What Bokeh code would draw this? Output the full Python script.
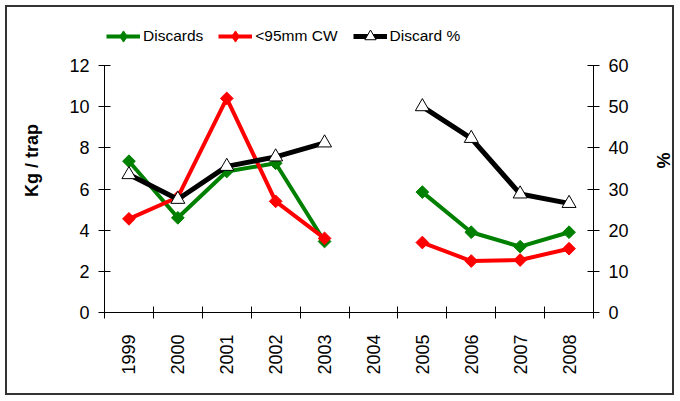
import math
from bokeh.plotting import figure
from bokeh.models import Range1d, LinearAxis, FixedTicker, Legend, LegendItem
from bokeh.embed import file_html
from bokeh.resources import INLINE

NaN = float("nan")
years = ["1999", "2000", "2001", "2002", "2003", "2004", "2005", "2006", "2007", "2008"]
discards = [7.35, 4.6, 6.85, 7.25, 3.45, NaN, 5.85, 3.9, 3.2, 3.9]
under95 = [4.55, 5.6, 10.4, 5.4, 3.6, NaN, 3.4, 2.5, 2.55, 3.1]
discard_pct = [33.5, 27.5, 35.5, 37.8, 41.2, NaN, 50.0, 42.3, 28.8, 26.5]
left_ticks = [0, 2, 4, 6, 8, 10, 12]
right_ticks = [0, 10, 20, 30, 40, 50, 60]
series_names = ["Discards", "<95mm CW", "Discard %"]

FONT = "Liberation Sans"
xs = [i + 0.5 for i in range(len(years))]

# layout: plot area (axes) is 247px tall, frame extends above it to hold the legend
W, H = 679, 400
FRAME_TOP, AXIS_TOP, AXIS_BOTTOM = 8, 65, 312
headroom = (AXIS_BOTTOM - FRAME_TOP) / (AXIS_BOTTOM - AXIS_TOP)

p = figure(width=W, height=H, x_range=Range1d(0, len(years)),
           y_range=Range1d(left_ticks[0], left_ticks[-1] * headroom),
           output_backend="svg", toolbar_location=None,
           min_border_left=104, min_border_right=W - 593,
           min_border_top=FRAME_TOP, min_border_bottom=H - AXIS_BOTTOM)
p.styles = {"outline": "2px solid #333333", "outline-offset": "-7px"}
p.outline_line_color = None
p.xgrid.grid_line_color = None
p.ygrid.grid_line_color = None
p.background_fill_color = None
p.border_fill_color = None

p.extra_y_ranges = {"pct": Range1d(right_ticks[0], right_ticks[-1] * headroom)}

# x axis: labels at category centres, ticks at boundaries
xa = p.xaxis[0]
xa.ticker = FixedTicker(ticks=xs, minor_ticks=list(range(len(years) + 1)))
xa.major_label_overrides = {x: y for x, y in zip(xs, years)}
xa.major_label_orientation = math.pi / 2
xa.major_tick_in = 0
xa.major_tick_out = 0
xa.minor_tick_in = 6
xa.minor_tick_out = 6
xa.minor_tick_line_color = "black"
xa.axis_line_color = "black"
xa.major_label_standoff = 16
xa.major_label_text_font = FONT
xa.major_label_text_font_size = "18px"
xa.major_label_text_color = "black"

ya = p.yaxis[0]
ya.ticker = FixedTicker(ticks=left_ticks, minor_ticks=[])
ya.bounds = (left_ticks[0], left_ticks[-1])
ya.axis_label = "Kg / trap"
ya.axis_label_text_font = FONT
ya.axis_label_text_font_style = "bold"
ya.axis_label_text_font_size = "18px"
ya.axis_label_text_color = "black"
ya.axis_label_standoff = 24
ya.major_tick_in = 6
ya.major_tick_out = 6
ya.minor_tick_line_color = None
ya.major_label_standoff = 9
ya.major_label_text_font = FONT
ya.major_label_text_font_size = "18px"
ya.major_label_text_color = "black"
ya.axis_line_color = "black"

ra = LinearAxis(y_range_name="pct", ticker=FixedTicker(ticks=right_ticks, minor_ticks=[]),
                axis_label="%", bounds=(right_ticks[0], right_ticks[-1]))
ra.axis_label_text_font = FONT
ra.axis_label_text_font_style = "bold"
ra.axis_label_text_font_size = "18px"
ra.axis_label_text_color = "black"
ra.axis_label_standoff = 21
ra.major_tick_in = 6
ra.major_tick_out = 6
ra.minor_tick_line_color = None
ra.major_label_standoff = 9
ra.major_label_text_font = FONT
ra.major_label_text_font_size = "18px"
ra.major_label_text_color = "black"
ra.axis_line_color = "black"
p.add_layout(ra, "right")

l1 = p.line(xs, discards, line_color="#008000", line_width=4)
k1 = p.scatter(xs, discards, marker="diamond", size=8,
               fill_color="#008000", line_color="#008000")
s1 = p.scatter(xs, discards, marker="square", angle=math.pi / 4, size=9,
               fill_color="#008000", line_color="#008000")
l2 = p.line(xs, under95, line_color="#FF0000", line_width=4)
k2 = p.scatter(xs, under95, marker="diamond", size=8,
               fill_color="#FF0000", line_color="#FF0000")
s2 = p.scatter(xs, under95, marker="square", angle=math.pi / 4, size=9,
               fill_color="#FF0000", line_color="#FF0000")
l3 = p.line(xs, discard_pct, line_color="black", line_width=5, y_range_name="pct")
s3 = p.scatter(xs, discard_pct, marker="triangle", size=14, fill_color="white",
               line_color="black", line_width=1, y_range_name="pct")

legend = Legend(items=[LegendItem(label=series_names[0], renderers=[l1, k1]),
                       LegendItem(label=series_names[1], renderers=[l2, k2]),
                       LegendItem(label=series_names[2], renderers=[l3, s3])],
                location=(2, AXIS_BOTTOM - 50), orientation="horizontal",
                padding=0, margin=0, spacing=15, label_standoff=3,
                glyph_width=34, glyph_height=28,
                border_line_alpha=0, background_fill_alpha=0,
                label_text_font=FONT, label_text_font_size="15.5px",
                label_text_color="black")
p.add_layout(legend)

open("out.html", "w").write(file_html(p, INLINE))
